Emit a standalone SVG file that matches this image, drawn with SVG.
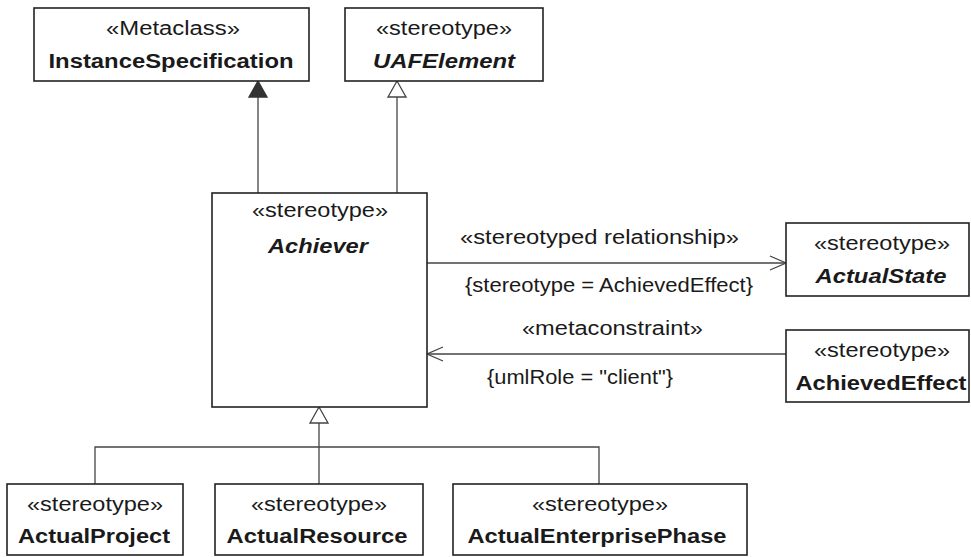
<svg xmlns="http://www.w3.org/2000/svg" width="971" height="557" viewBox="0 0 971 557">
<style>
.box{fill:#fff;stroke:#222;stroke-width:1.6}
.ln{fill:none;stroke:#444;stroke-width:1.3}
.hollow{fill:#fff;stroke:#444;stroke-width:1.3}
.solid{fill:#333;stroke:#333;stroke-width:1.3}
text{font-family:"Liberation Sans",Arial,sans-serif;font-size:20px;fill:#1a1a1a}
.c{text-anchor:middle}
.b{font-weight:bold}
.bi{font-weight:bold;font-style:italic}
</style>
<rect width="971" height="557" fill="#fff"/>
<g id="connectors">
  <line class="ln" x1="258" y1="193" x2="258" y2="97"/>
  <polygon class="solid" points="258,81 249,97 267,97"/>
  <line class="ln" x1="397" y1="193" x2="397" y2="97"/>
  <polygon class="hollow" points="397,81 388,97 406,97"/>
  <line class="ln" x1="427" y1="263" x2="786" y2="263"/>
  <polyline class="ln" points="770,256 786,263 770,270"/>
  <text x="460" y="244" textLength="279" lengthAdjust="spacingAndGlyphs">«stereotyped relationship»</text>
  <text x="465" y="292" textLength="288" lengthAdjust="spacingAndGlyphs">{stereotype = AchievedEffect}</text>
  <line class="ln" x1="786" y1="354" x2="427" y2="354"/>
  <polyline class="ln" points="443,347 427,354 443,361"/>
  <text x="522" y="335" textLength="181" lengthAdjust="spacingAndGlyphs">«metaconstraint»</text>
  <text x="487" y="384" textLength="186" lengthAdjust="spacingAndGlyphs">{umlRole = "client"}</text>
  <polygon class="hollow" points="319,407 310,423 328,423"/>
  <line class="ln" x1="319" y1="423" x2="319" y2="484"/>
  <polyline class="ln" points="95,484 95,447 599,447 599,484"/>
</g>
<g id="InstanceSpecification">
  <rect class="box" x="34" y="8" width="275" height="73"/>
  <text class="c" x="173" y="35" textLength="134" lengthAdjust="spacingAndGlyphs">«Metaclass»</text>
  <text class="c b" x="171" y="68" textLength="245" lengthAdjust="spacingAndGlyphs">InstanceSpecification</text>
</g>
<g id="UAFElement">
  <rect class="box" x="345" y="8" width="198" height="73"/>
  <text class="c" x="444" y="35" textLength="136" lengthAdjust="spacingAndGlyphs">«stereotype»</text>
  <text class="c bi" x="444" y="68" textLength="142" lengthAdjust="spacingAndGlyphs">UAFElement</text>
</g>
<g id="Achiever">
  <rect class="box" x="212" y="193" width="215" height="214"/>
  <text class="c" x="320" y="217" textLength="136" lengthAdjust="spacingAndGlyphs">«stereotype»</text>
  <text class="c bi" x="318" y="253" textLength="100" lengthAdjust="spacingAndGlyphs">Achiever</text>
</g>
<g id="ActualState">
  <rect class="box" x="786" y="223" width="183" height="73"/>
  <text class="c" x="882" y="250" textLength="136" lengthAdjust="spacingAndGlyphs">«stereotype»</text>
  <text class="c bi" x="881" y="283" textLength="131" lengthAdjust="spacingAndGlyphs">ActualState</text>
</g>
<g id="AchievedEffect">
  <rect class="box" x="786" y="330" width="183" height="72"/>
  <text class="c" x="882" y="357" textLength="136" lengthAdjust="spacingAndGlyphs">«stereotype»</text>
  <text class="c b" x="881" y="390" textLength="171" lengthAdjust="spacingAndGlyphs">AchievedEffect</text>
</g>
<g id="ActualProject">
  <rect class="box" x="7" y="484" width="176" height="71"/>
  <text class="c" x="95" y="511" textLength="136" lengthAdjust="spacingAndGlyphs">«stereotype»</text>
  <text class="c b" x="94" y="543" textLength="152" lengthAdjust="spacingAndGlyphs">ActualProject</text>
</g>
<g id="ActualResource">
  <rect class="box" x="215" y="484" width="208" height="71"/>
  <text class="c" x="319" y="511" textLength="136" lengthAdjust="spacingAndGlyphs">«stereotype»</text>
  <text class="c b" x="317" y="543" textLength="181" lengthAdjust="spacingAndGlyphs">ActualResource</text>
</g>
<g id="ActualEnterprisePhase">
  <rect class="box" x="453" y="484" width="294" height="71"/>
  <text class="c" x="600" y="511" textLength="136" lengthAdjust="spacingAndGlyphs">«stereotype»</text>
  <text class="c b" x="597" y="543" textLength="259" lengthAdjust="spacingAndGlyphs">ActualEnterprisePhase</text>
</g>
</svg>
